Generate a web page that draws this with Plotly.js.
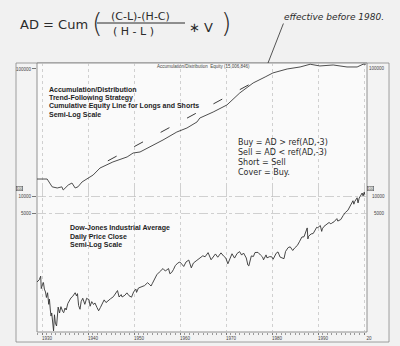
<!DOCTYPE html>
<html>
<head>
<meta charset="utf-8">
<script src="https://cdn.plot.ly/plotly-3.0.1.min.js"></script>
<style>
html,body{margin:0;padding:0;background:#f1f1f1;}
#chart{width:400px;height:346px;}
</style>
</head>
<body>
<div id="chart"></div>
<script>
// ---------- data ----------
const dowYears = [1928.9,1929.1,1929.4,1929.7,1929.83,1929.95,1930.1,1930.3,1930.5,1930.75,1930.95,1931.2,1931.45,1931.6,1931.8,1931.95,1932.1,1932.3,1932.5,1932.7,1932.9,1933.15,1933.5,1933.8,1934.1,1934.5,1934.7,1935.0,1935.25,1935.6,1935.95,1936.3,1936.6,1936.9,1937.2,1937.5,1937.7,1937.95,1938.25,1938.5,1938.85,1939.3,1939.7,1939.95,1940.2,1940.45,1940.8,1941.2,1941.5,1941.95,1942.3,1942.7,1943.0,1943.5,1943.9,1944.3,1944.9,1945.5,1945.95,1946.4,1946.75,1947.2,1947.4,1948.0,1948.45,1948.9,1949.45,1949.9,1950.4,1950.55,1950.95,1951.5,1951.9,1952.3,1952.6,1952.95,1953.3,1953.7,1953.95,1954.5,1954.95,1955.5,1955.95,1956.3,1956.8,1957.5,1957.8,1958.2,1958.6,1958.95,1959.5,1959.95,1960.4,1960.8,1961.3,1961.9,1962.45,1962.9,1963.5,1963.95,1964.5,1964.95,1965.45,1966.1,1966.75,1967.3,1967.7,1968.2,1968.9,1969.5,1969.95,1970.4,1970.95,1971.3,1971.85,1972.4,1972.95,1973.4,1973.8,1974.4,1974.75,1974.95,1975.5,1975.95,1976.3,1976.95,1977.5,1977.95,1978.15,1978.7,1978.9,1979.5,1979.95,1980.25,1980.9,1981.3,1981.75,1982.6,1982.95,1983.5,1983.95,1984.5,1984.95,1985.5,1985.95,1986.5,1986.95,1987.3,1987.65,1987.8,1987.95,1988.5,1988.95,1989.5,1989.7,1989.95,1990.5,1990.8,1990.95,1991.3,1991.95,1992.4,1992.8,1992.95,1993.5,1993.95,1994.1,1994.3,1994.95,1995.5,1995.95,1996.5,1996.95,1997.5,1997.6,1997.8,1997.95,1998.5,1998.7,1998.95,1999.3,1999.6,1999.8,1999.95,2000.05,2000.15];
const dowValues = [300,310,330,381,230,248,270,294,225,200,160,194,121,150,96,75,85,55,41,79,56,50,108,85,110,90,86,104,96,125,144,158,165,182,194,170,187,115,99,135,155,121,155,150,147,112,135,120,128,106,93,107,119,145,130,140,152,165,192,212,163,180,163,175,193,172,162,200,225,197,235,245,260,260,275,292,275,255,280,335,404,450,488,520,470,520,420,445,505,583,650,679,620,566,680,735,535,650,710,762,840,874,840,995,744,880,943,825,985,860,800,631,838,950,797,960,1036,900,980,800,600,578,870,850,1000,1005,900,830,742,907,805,845,838,760,970,1024,830,777,1046,1220,1259,1086,1211,1330,1546,1880,1896,2300,2722,1739,1939,2130,2168,2600,2790,2753,2999,2365,2633,2900,3168,3400,3200,3301,3500,3754,3978,3600,3834,4550,5117,5600,6448,7800,8250,7160,7908,9300,7540,9181,10500,11300,10020,11497,11700,10600];

const eqYears = [1928.9,1931.1,1932.2,1933.3,1934.3,1934.6,1935.7,1936.5,1937.2,1937.8,1938.7,1939.8,1941.1,1942.6,1945.4,1948.5,1949.8,1951.3,1953.5,1956.3,1959.3,1961.5,1963.7,1964.3,1967.2,1970.2,1973.0,1975.9,1978.5,1980.2,1983.3,1986.1,1988.3,1990.4,1993.3,1996.3,1998.5,1999.8,2000.4];
const eqValues = [13600,13600,11800,11560,11800,11150,12200,12650,11560,11800,12900,13600,14620,16600,18530,20300,21800,22200,24300,27600,31900,34300,38300,41100,45800,52100,64800,77600,86500,93100,100000,103700,109000,105600,107500,103700,103700,109000,109000];

const trendYears = [1944.3, 1978.5];
const trendValues = [18900, 88100];

const xTickYears = [1930,1940,1950,1960,1970,1980,1990,2000];
const xTickLabels = ['1930','1940','1950','1960','1970','1980','1990','20'];

// ---------- layout helpers (pixel -> paper) ----------
const L=37, R=33, T=63, B=14, W=400, H=346;
const pw = W-L-R, ph = H-T-B;
const px = x => (x-L)/pw;
const py = y => (H-B-y)/ph;

const hand = {family:'DejaVu Sans, sans-serif', color:'#2b2b2b'};
const boldTxt = {family:'Liberation Sans, Arial, sans-serif', size:7, color:'#1e1e1e', weight:'bold'};
const tickFont = {family:'Liberation Sans, Arial, sans-serif', size:4.5, color:'#444'};

const traces = [
  {x: eqYears, y: eqValues, xaxis:'x', yaxis:'y', type:'scatter', mode:'lines',
   line:{color:'#3a3a3a', width:0.9}, hoverinfo:'skip'},
  {x: trendYears, y: trendValues, xaxis:'x', yaxis:'y', type:'scatter', mode:'lines',
   line:{color:'#3a3a3a', width:1, dash:'10px,20px'}, hoverinfo:'skip'},
  {x: dowYears, y: dowValues, xaxis:'x', yaxis:'y2', type:'scatter', mode:'lines',
   line:{color:'#333', width:0.9}, hoverinfo:'skip'}
];

const ann = [];
function A(x, y, text, font, extra){ ann.push(Object.assign({xref:'paper', yref:'paper', x:px(x), y:py(y), text:text, showarrow:false, font:font, xanchor:'left', yanchor:'middle'}, extra||{})); }

// formula
A(18, 24, 'AD = Cum', Object.assign({size:13}, hand));
A(90, 23, '(', Object.assign({size:27, weight:300}, hand));
A(140, 16, '(C-L)-(H-C)', Object.assign({size:11}, hand), {xanchor:'center'});
A(133, 31, '( H - L )', Object.assign({size:11}, hand), {xanchor:'center'});
A(187, 27, '∗ V', Object.assign({size:13}, hand));
A(219, 23, ')', Object.assign({size:27, weight:300}, hand));
A(282, 17, 'effective before 1980.', Object.assign({size:9, style:'italic'}, hand));
// arrow
ann.push({xref:'paper', yref:'paper', x:px(268), y:py(63), ax:16, ay:-41, axref:'pixel', ayref:'pixel', text:'', showarrow:true, arrowhead:0, arrowwidth:0.8, arrowcolor:'#2b2b2b'});

// chart text blocks
A(203, 66, 'Accumulation/Distribution  Equity (15,006,846)', tickFont, {xanchor:'center'});
['Accumulation/Distribution','Trend-Following Strategy','Cumulative Equity Line for Longs and Shorts','Semi-Log Scale']
  .forEach((t,i)=>A(47, 89+i*8.6, t, boldTxt));
['Dow-Jones Industrial Average','Daily Price Close','Semi-Log Scale']
  .forEach((t,i)=>A(68, 228+i*8.6, t, boldTxt));

// rules
['Buy = AD > ref(AD,-3)','Sell = AD < ref(AD,-3)','Short = Sell','Cover = Buy.']
  .forEach((t,i)=>A(236, 142+i*10.2, t, Object.assign({size:8}, hand)));

// right side tick labels
[[69,'100000'],[196,'10000'],[213,'5000']].forEach(p=>A(387, p[0], p[1], tickFont, {xanchor:'right'}));
// last value boxes
A(19.5, 188.5, '100', Object.assign({}, tickFont, {size:3.5}), {xanchor:'center', bordercolor:'#555', borderwidth:0.6, borderpad:0});
A(370, 188, '100', Object.assign({}, tickFont, {size:3.5}), {xanchor:'center', bordercolor:'#555', borderwidth:0.6, borderpad:0});

const shapes = [
  {type:'rect', xref:'paper', yref:'paper', x0:px(16), x1:px(389), y0:py(342), y1:py(63), line:{color:'#888', width:0.8}, fillcolor:'#f3f3f3', layer:'below'},
  {type:'rect', xref:'paper', yref:'paper', x0:0, x1:1, y0:0, y1:1, line:{color:'#777', width:0.8}, fillcolor:'#fafafa', layer:'below'},
  // fraction bar of handwritten formula
  {type:'line', xref:'paper', yref:'paper', x0:px(97), x1:px(185), y0:py(23), y1:py(23), line:{color:'#2b2b2b', width:1}}
];

const layout = {
  width:W, height:H,
  margin:{l:L, r:R, t:T, b:B, pad:0},
  paper_bgcolor:'#f1f1f1', plot_bgcolor:'rgba(0,0,0,0)',
  showlegend:false,
  xaxis:{anchor:'y2', range:[1928.9, 2000.65], tickvals:xTickYears, ticktext:xTickLabels,
    tickfont:tickFont, ticks:'outside', ticklen:2, tickcolor:'#777', ticklabelshift:5,
    showgrid:true, gridcolor:'#bdbdbd', griddash:'dot', gridwidth:0.7, zeroline:false,
    showline:false, minor:{dtick:1, ticks:'outside', ticklen:1.5, tickcolor:'#999', showgrid:false}},
  yaxis:{domain:[py(197), 1], type:'log', range:[3.992, 5.047], tickvals:[100000], ticktext:['100000'],
    tickfont:tickFont, ticks:'outside', ticklen:4, tickcolor:'#777', showgrid:false, zeroline:false, showline:false},
  yaxis2:{domain:[0, py(186)], type:'log', range:[1.593, 4.177], tickvals:[10000,5000], ticktext:['10000','5000'],
    tickfont:tickFont, ticks:'outside', ticklen:4, tickcolor:'#777', showgrid:true, gridcolor:'#bdbdbd', griddash:'dashdot', gridwidth:0.7, zeroline:false, showline:false},
  annotations: ann,
  shapes: shapes
};

Plotly.newPlot('chart', traces, layout, {staticPlot:true, displayModeBar:false});
</script>
</body>
</html>
